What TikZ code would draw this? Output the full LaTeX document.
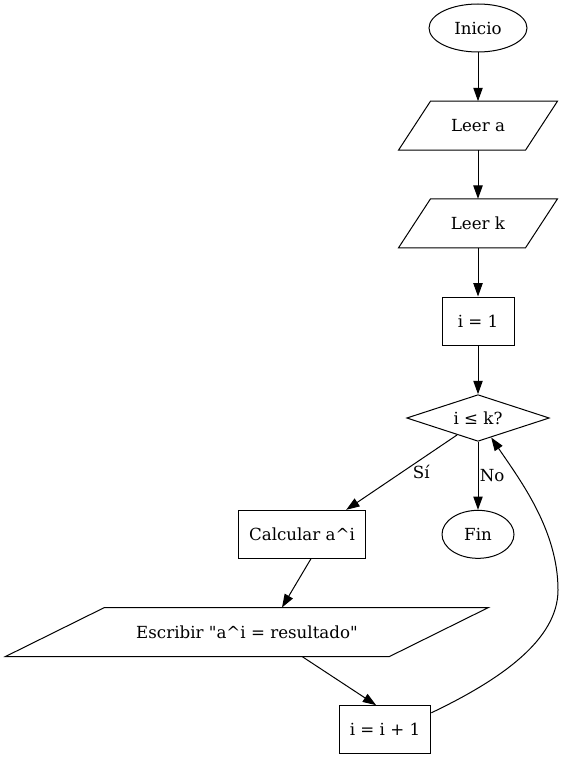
\documentclass[tikz,border=0pt]{standalone}
\usepackage{fontspec}
\setmainfont{DejaVu Serif}[Ligatures=TeXOff]
\usepackage{tikz}
\usetikzlibrary{shapes,arrows.meta,positioning,shapes.geometric}

\begin{document}
\begin{tikzpicture}[
    x=0.75pt, y=-0.75pt,
    node distance=36.5pt,
    line width=0.75pt,
    font=\fontsize{12.5}{15}\selectfont,
    term/.style={ellipse, draw, minimum height=36pt, inner sep=0pt},
    io/.style={rectangle, minimum height=36pt, minimum width=#1, inner sep=0pt},
    proc/.style={rectangle, draw, minimum height=36pt, minimum width=54pt, inner xsep=8pt},
    decision/.style={diamond, draw, aspect=3, minimum width=107pt, minimum height=35pt, inner sep=0pt},
    arrow/.style={-{Triangle[length=10pt,width=7pt]}},
    lbl/.style={inner sep=0pt}
]
    \useasboundingbox (0,0) rectangle (564,759);

    % Entrada
    \node[term, minimum width=73.5pt] (inicio) at (478,28) {Inicio};
    \node[io=94.5pt, below=of inicio] (leera) {Leer a};
    \node[io=94.5pt, below=of leera] (leerk) {Leer k};
    \node[proc, below=of leerk] (init) {i = 1};

    % Bucle
    \node[decision, below=of init] (cond) {i ≤ k?};
    \node[proc, below=51pt of cond, xshift=-132pt] (calc) {Calcular a\textasciicircum i};
    \node[term, minimum width=54pt, below=51pt of cond] (fin) {Fin};
    \node[io=287.25pt, below=of calc, xshift=-41.25pt] (write) {Escribir "a\textasciicircum i = resultado"};
    \node[proc, below=of write, xshift=103.5pt] (incr) {i = i + 1};

    % Paralelogramos de entrada/salida
    \foreach \n/\s in {leera/12pt, leerk/12pt, write/37.125pt}
        \draw ([xshift=\s]\n.north west) -- ([xshift=\s]\n.north east)
            -- ([xshift=-\s]\n.south east) -- ([xshift=-\s]\n.south west) -- cycle;

    % Conexiones
    \draw[arrow] (inicio) -- (leera);
    \draw[arrow] (leera) -- (leerk);
    \draw[arrow] (leerk) -- (init);
    \draw[arrow] (init) -- (cond);
    \draw[arrow] (cond.219) -- node[lbl, midway, right=8pt] {Sí} (calc.29);
    \draw[arrow] (cond) -- node[lbl, midway, right=1pt] {No} (fin);
    \draw[arrow] (calc.-70) -- (write.35);
    \draw[arrow] (write.-24) -- (incr.110);
    \draw[arrow] (incr.20) .. controls (500,680) and (558,640) .. (558,590)
        .. controls (558,530) and (520,480) .. (cond);
\end{tikzpicture}
\end{document}
